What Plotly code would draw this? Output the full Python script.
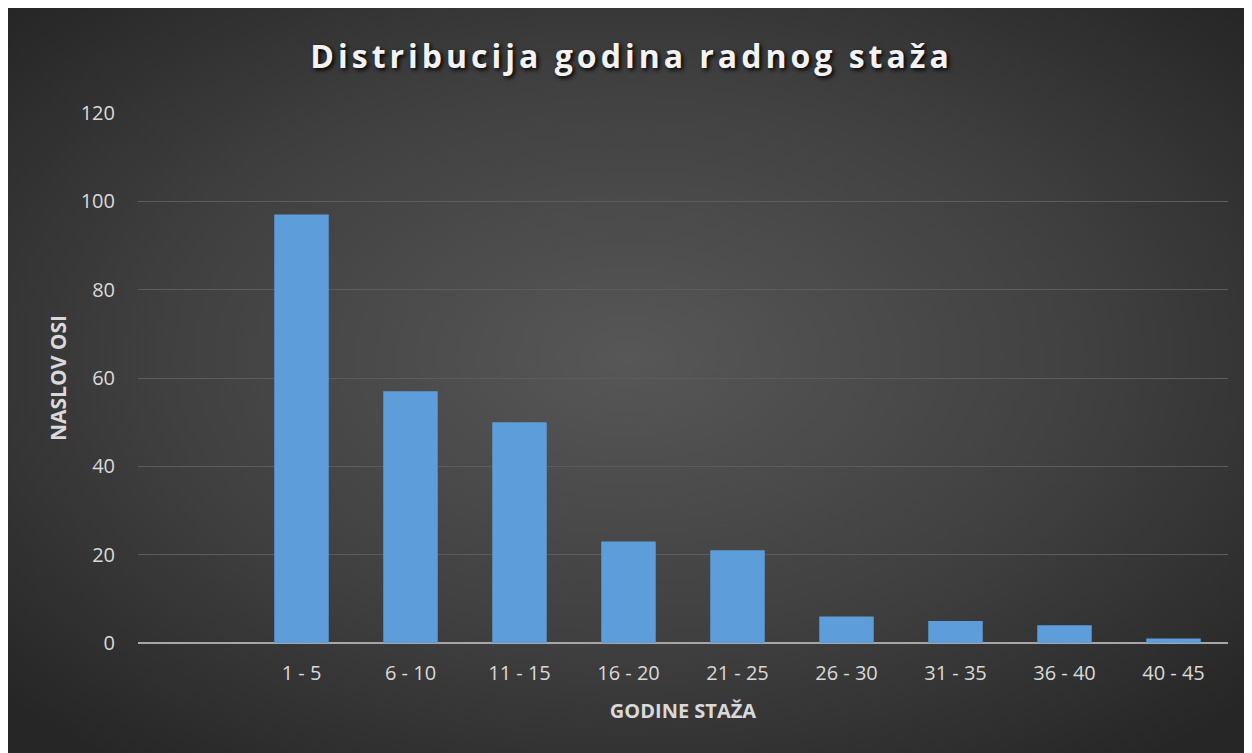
import base64
import plotly.graph_objects as go

# ---- data ----
categories = [" ", "1 - 5", "6 - 10", "11 - 15", "16 - 20", "21 - 25",
              "26 - 30", "31 - 35", "36 - 40", "40 - 45"]
counts = [None, 97, 57, 50, 23, 21, 6, 5, 4, 1]
y_ticks = [0, 20, 40, 60, 80, 100, 120]

title_text = "Distribucija godina radnog staža"
x_title = "GODINE STAŽA"
y_title = "NASLOV OSI"

# ---- figure geometry (page body adds an 8px margin) ----
W, H = 1241, 745
L, R, T, B = 130, 21, 105, 110
plot_w = W - L - R
plot_h = H - T - B

# background: radial gradient over the whole chart area
svg = (
    '<svg xmlns="http://www.w3.org/2000/svg" width="1241" height="745" '
    'viewBox="0 0 1241 745" preserveAspectRatio="none">'
    '<defs><radialGradient id="g" cx="50%" cy="47%" r="68%">'
    '<stop offset="0" stop-color="#575757"/>'
    '<stop offset="0.55" stop-color="#404040"/>'
    '<stop offset="1" stop-color="#262626"/>'
    '</radialGradient></defs>'
    '<rect width="1241" height="745" fill="url(#g)"/></svg>'
)
bg_src = "data:image/svg+xml;base64," + base64.b64encode(svg.encode()).decode()

font_family = "Open Sans, Lato, sans-serif"

fig = go.Figure()
fig.add_trace(go.Bar(
    x=categories,
    y=counts,
    width=0.5,
    marker=dict(color="#5d9dd9", line=dict(width=0)),
    hoverinfo="x+y",
    showlegend=False,
))

fig.update_layout(
    width=W, height=H, autosize=False,
    margin=dict(l=L, r=R, t=T, b=B),
    paper_bgcolor="#333333",
    plot_bgcolor="rgba(0,0,0,0)",
    font=dict(family=font_family, color="#d9d9d9"),
    title=dict(
        text='<span style="letter-spacing:4px">' + title_text + '</span>',
        x=623.5 / W, xanchor="center",
        y=1 - 49 / H, yanchor="middle",
        font=dict(size=32, color="#f2f2f2", weight="bold",
                  family=font_family, shadow="2px 2px 4px #000000"),
    ),
    images=[dict(
        source=bg_src, xref="paper", yref="paper",
        x=-L / plot_w, y=(H - B) / plot_h,
        sizex=W / plot_w, sizey=H / plot_h,
        sizing="stretch", xanchor="left", yanchor="top",
        layer="below", opacity=1,
    )],
    bargap=0.5,
)

fig.update_xaxes(
    type="category",
    categoryorder="array", categoryarray=categories,
    showgrid=False, showline=False, zeroline=False,
    ticks="", ticklabelstandoff=16,
    tickfont=dict(size=20, color="#d9d9d9"),
    title=dict(text=x_title, standoff=18,
               font=dict(size=20, color="#d9d9d9", weight="bold")),
)
fig.update_yaxes(
    range=[0, 120], tickvals=y_ticks,
    showgrid=True, gridcolor="#5c5c5c", gridwidth=1,
    zeroline=True, zerolinecolor="#a6a6a6", zerolinewidth=2,
    showline=False, ticks="", ticklabelstandoff=22,
    tickfont=dict(size=20, color="#d9d9d9"),
    title=dict(text=y_title, standoff=8,
               font=dict(size=21, color="#d9d9d9", weight="bold")),
)

fig.write_html("out.html")
